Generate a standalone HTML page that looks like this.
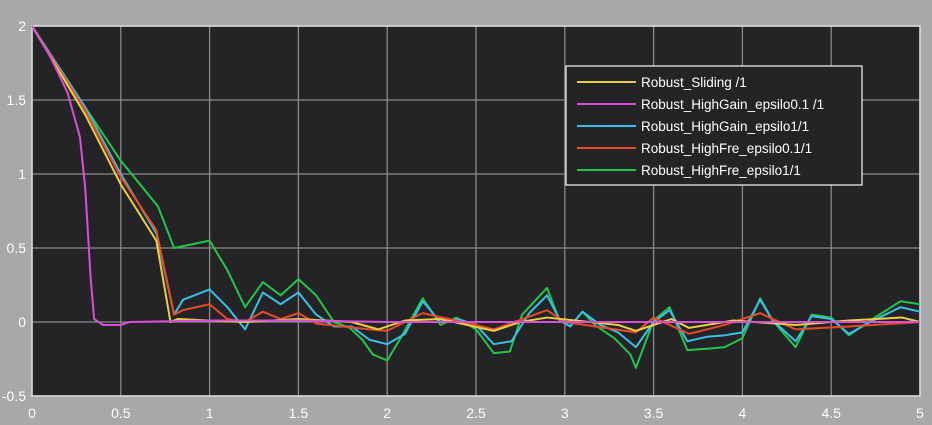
<!DOCTYPE html>
<html><head><meta charset="utf-8"><style>
body{margin:0;background:#a8a8aa;}
svg{display:block;font-family:"Liberation Sans",sans-serif;}
</style></head><body>
<svg width="932" height="425" id="c"></svg>
<script>
const xTicks=[0,0.5,1,1.5,2,2.5,3,3.5,4,4.5,5];
const xTickLabels=["0","0.5","1","1.5","2","2.5","3","3.5","4","4.5","5"];
const yTicks=[-0.5,0,0.5,1,1.5,2];
const yTickLabels=["-0.5","0","0.5","1","1.5","2"];
const seriesNames=["Robust_Sliding /1","Robust_HighGain_epsilo0.1 /1","Robust_HighGain_epsilo1/1","Robust_HighFre_epsilo0.1/1","Robust_HighFre_epsilo1/1"];
const greenT=[0,0.3,0.5,0.71,0.8,1.0,1.1,1.2,1.3,1.4,1.5,1.6,1.7,1.79,1.86,1.92,2.0,2.07,2.2,2.3,2.39,2.5,2.6,2.69,2.76,2.9,2.97,3.03,3.1,3.17,3.28,3.37,3.4,3.5,3.59,3.69,3.81,3.9,4.0,4.1,4.17,4.3,4.39,4.5,4.6,4.72,4.89,5];
const greenV=[2,1.45,1.09,0.78,0.5,0.55,0.35,0.1,0.27,0.18,0.29,0.18,0,-0.04,-0.12,-0.22,-0.26,-0.12,0.16,-0.02,0.03,-0.05,-0.21,-0.2,0.05,0.23,0.01,-0.03,0.07,-0.02,-0.11,-0.22,-0.31,0.01,0.1,-0.19,-0.18,-0.17,-0.11,0.16,0.01,-0.17,0.05,0.03,-0.09,0.01,0.14,0.12];
const cyanT=[0,0.3,0.5,0.7,0.8,0.85,1.0,1.1,1.2,1.3,1.4,1.5,1.6,1.7,1.8,1.9,2.0,2.1,2.2,2.3,2.4,2.5,2.6,2.7,2.8,2.9,2.97,3.03,3.1,3.2,3.3,3.4,3.5,3.59,3.69,3.8,3.9,4.0,4.1,4.17,4.3,4.39,4.5,4.6,4.72,4.89,5];
const cyanV=[2,1.45,1.0,0.6,0.05,0.15,0.22,0.1,-0.05,0.2,0.12,0.2,0.05,-0.03,-0.03,-0.12,-0.15,-0.08,0.14,0,0.02,-0.02,-0.15,-0.13,0.06,0.18,0.02,-0.03,0.07,-0.02,-0.07,-0.17,0,0.08,-0.13,-0.1,-0.09,-0.07,0.15,0.01,-0.13,0.04,0.02,-0.08,0,0.1,0.07];
const redT=[0,0.3,0.5,0.7,0.8,0.85,1.0,1.1,1.2,1.3,1.4,1.5,1.6,1.9,2.0,2.2,2.5,2.6,2.9,3.0,3.4,3.5,3.7,3.9,4.1,4.3,4.6,5];
const redV=[2,1.43,0.98,0.62,0.05,0.08,0.12,0.02,0,0.07,0.02,0.06,-0.01,-0.05,-0.06,0.06,-0.02,-0.05,0.08,0,-0.07,0.03,-0.08,-0.02,0.06,-0.05,-0.03,0];
const yellowT=[0,0.3,0.5,0.7,0.78,0.82,1.0,1.2,1.5,1.8,1.95,2.1,2.3,2.6,2.75,2.9,3.3,3.4,3.6,3.7,3.95,4.3,4.6,4.9,5];
const yellowV=[2,1.4,0.93,0.55,0.0,0.02,0.01,0.0,0.02,0,-0.05,0.01,0.02,-0.06,0.0,0.03,-0.02,-0.06,0.02,-0.04,0.01,-0.02,0.01,0.03,0];
const magT=[0,0.1,0.2,0.27,0.3,0.33,0.35,0.4,0.5,0.55,1.0,1.5,2.0,3.0,4.0,5];
const magV=[2,1.8,1.55,1.25,0.9,0.3,0.02,-0.02,-0.02,0,0.01,0.01,0,0,0,0];
const X=t=>32+t*177.6, Y=v=>322-v*148;
const svg=document.getElementById('c'),NS="http://www.w3.org/2000/svg";
function mk(tag,attrs,parent){const e=document.createElementNS(NS,tag);for(const k in attrs)e.setAttribute(k,attrs[k]);(parent||svg).appendChild(e);return e;}
const bg=mk('rect',{x:32,y:26,width:888,height:370,fill:'#242426'});


xTicks.forEach((t,i)=>{
 const g=mk('line',{x1:X(t),x2:X(t),y1:26,y2:396,stroke:'#8a8a8c','stroke-width':1.3});
 
 
 const l=mk('text',{x:X(t),y:418,fill:'#fff','font-size':14,'text-anchor':'middle'});
 l.textContent=xTickLabels[i];
 
 
});
yTicks.forEach((v,i)=>{
 const g=mk('line',{x1:32,x2:920,y1:Y(v),y2:Y(v),stroke:'#8a8a8c','stroke-width':1.3});
 
 
 const l=mk('text',{x:26,y:Y(v)+5,fill:'#fff','font-size':14,'text-anchor':'end'});
 l.textContent=yTickLabels[i];
 
 
});
const ax=mk('rect',{x:32,y:26,width:888,height:370,fill:'none',stroke:'#e0e0e0','stroke-width':1.5});


const colors=['#e8d040','#d850d8','#38c0e8','#e84a28','#22c64a'];
const data=[[yellowT,yellowV],[magT,magV],[cyanT,cyanV],[redT,redV],[greenT,greenV]];
[4,2,3,0,1].forEach(i=>{
 const [T,V]=data[i];
 const p=mk('polyline',{points:T.map((t,j)=>X(t)+','+Y(V[j])).join(' '),fill:'none',stroke:colors[i],'stroke-width':2,'stroke-linejoin':'round'});
 
 
});
const lg=mk('g',{});


mk('rect',{x:566,y:66,width:296,height:119,fill:'#242426',stroke:'#e8e8e8','stroke-width':1.3},lg);
seriesNames.forEach((n,i)=>{
 const y=82+i*22;
 const ln=mk('line',{x1:577,x2:636,y1:y,y2:y,stroke:colors[i],'stroke-width':2},lg);
 
 
 const tx=mk('text',{x:641,y:y+5,fill:'#fff','font-size':13.5},lg);
 tx.textContent=n;
 
 
});
</script>
</body></html>
